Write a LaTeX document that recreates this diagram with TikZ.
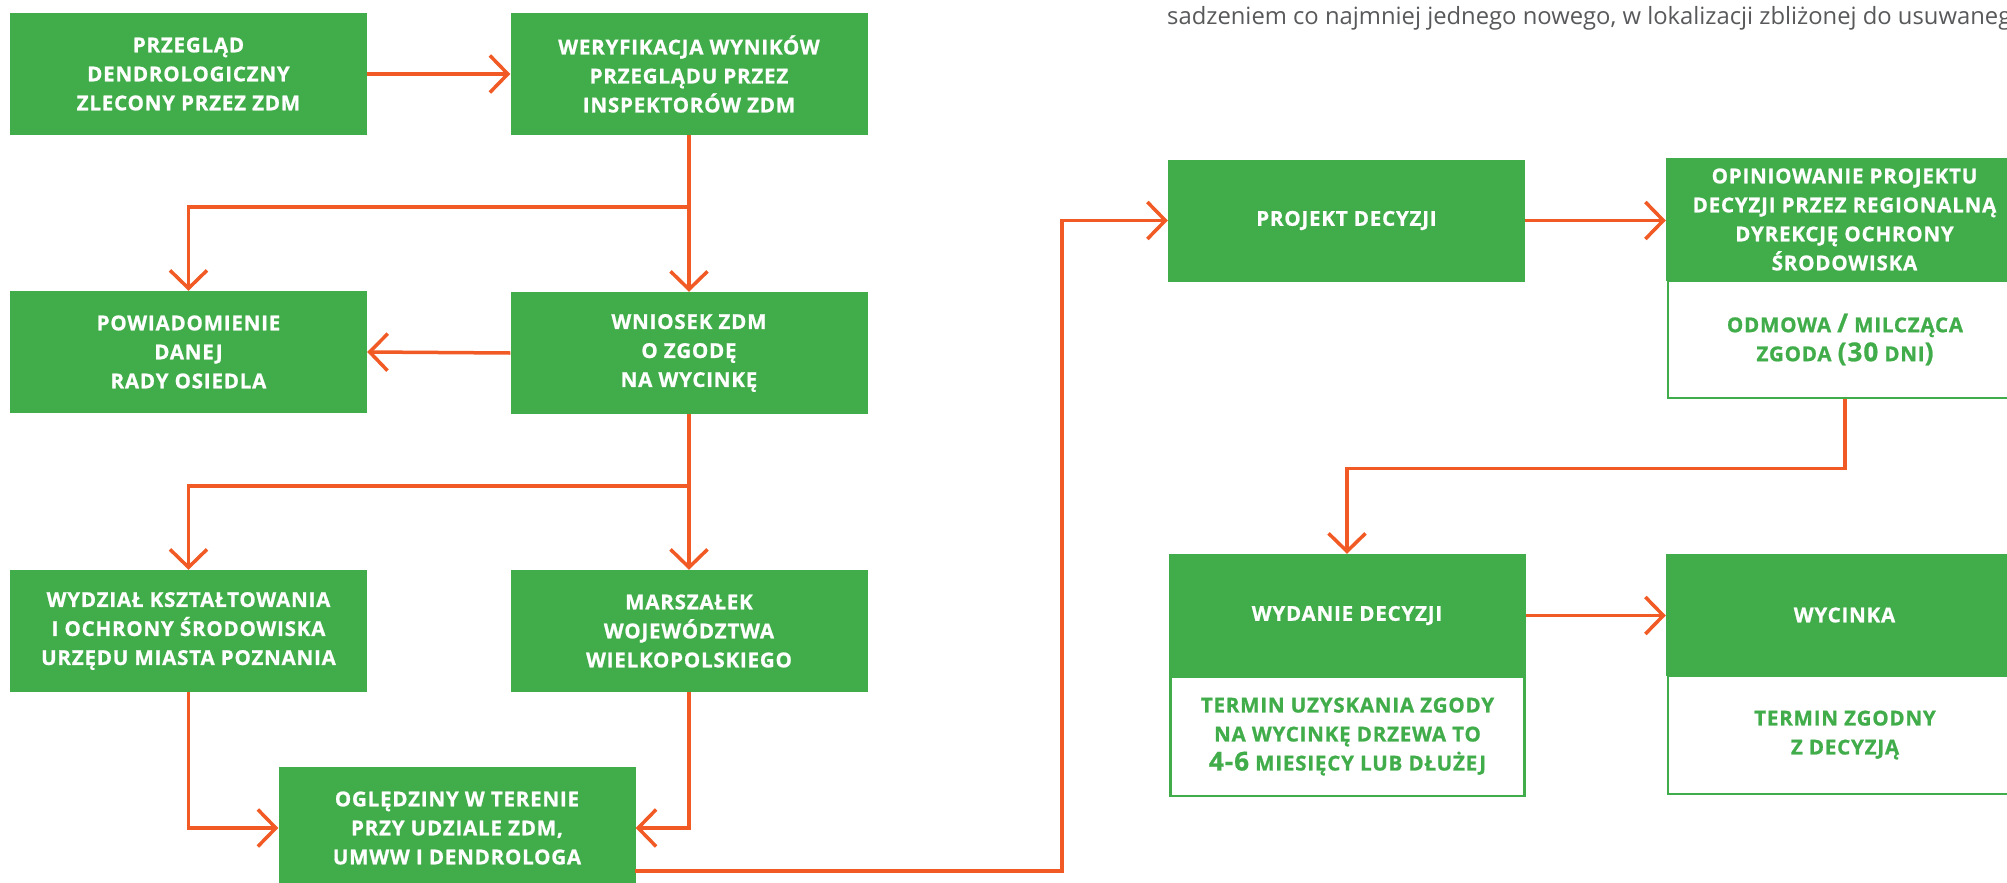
\documentclass[tikz,border=0pt]{standalone}
\usepackage{fontspec}
\setmainfont{Open Sans}
\newfontfamily\boxfont{Open Sans}[LetterSpace=4, BoldFeatures={FakeBold=1}]
\usetikzlibrary{arrows.meta}
\definecolor{zgreen}{HTML}{41AD4A}
\definecolor{zorange}{HTML}{F15A24}
\definecolor{zgray}{HTML}{58595B}
\newcommand\bigtxt[1]{{\fontsize{26bp}{29bp}\selectfont #1}}
\begin{document}
\begin{tikzpicture}[x=1bp,y=-1bp,
  box/.style={rectangle, fill=zgreen, minimum width=357bp, minimum height=122bp,
    inner sep=0pt, align=center, text=white,
    font=\boxfont\bfseries\fontsize{20.5bp}{29bp}\selectfont},
  subbox/.style={rectangle, draw=zgreen, line width=2.5bp, fill=white,
    minimum width=354bp, inner sep=0pt, align=center, text=zgreen,
    font=\boxfont\bfseries\fontsize{20.5bp}{29bp}\selectfont},
  arr/.style={draw=zorange, line width=3.5bp,
    -{Straight Barb[length=18bp,width=37bp]}}]
\useasboundingbox (0,0) rectangle (2007,883);
\fill[white] (0,0) rectangle (2007,883);

\node[anchor=base west, inner sep=0pt, text=zgray,
  font=\fontsize{23.8bp}{28bp}\selectfont] (note) at (1167,24)
  {sadzeniem co najmniej jednego nowego, w lokalizacji zbliżonej do usuwanego};

\node[box] (b1) at (188.5,74) {PRZEGLĄD\\DENDROLOGICZNY\\ZLECONY PRZEZ ZDM};
\node[box] (b2) at (689,74) {WERYFIKACJA WYNIKÓW\\PRZEGLĄDU PRZEZ\\INSPEKTORÓW ZDM};
\node[box] (b3) at (188.5,352) {POWIADOMIENIE\\DANEJ\\RADY OSIEDLA};
\node[box] (b4) at (689,353) {WNIOSEK ZDM\\O ZGODĘ\\NA WYCINKĘ};
\node[box] (b5) at (188.5,631) {WYDZIAŁ KSZTAŁTOWANIA\\I OCHRONY ŚRODOWISKA\\URZĘDU MIASTA POZNANIA};
\node[box] (b6) at (689,631) {MARSZAŁEK\\WOJEWÓDZTWA\\WIELKOPOLSKIEGO};
\node[box] (b7) at (457,828) {OGLĘDZINY W TERENIE\\PRZY UDZIALE ZDM,\\UMWW I DENDROLOGA};
\node[box] (b8) at (1346.5,220.5) {PROJEKT DECYZJI};

\node[subbox, minimum height=117bp] (w9) at (1845,339.5)
  {ODMOWA \bigtxt{/} MILCZĄCA\\ZGODA \bigtxt{(30} DNI\bigtxt{)}};
\node[box, minimum height=123bp] (b9) at (1844.5,219.5)
  {OPINIOWANIE PROJEKTU\\DECYZJI PRZEZ REGIONALNĄ\\DYREKCJĘ OCHRONY\\ŚRODOWISKA};

\node[subbox, minimum height=119bp] (w10) at (1347.5,736.5)
  {TERMIN UZYSKANIA ZGODY\\NA WYCINKĘ DRZEWA TO\\\bigtxt{4-6} MIESIĘCY LUB DŁUŻEJ};
\node[box, minimum height=123bp] (b10) at (1347,615.5) {WYDANIE DECYZJI};

\node[subbox, minimum height=118bp] (w11) at (1845,735)
  {TERMIN ZGODNY\\Z DECYZJĄ};
\node[box] (b11) at (1844.5,615) {WYCINKA};

\coordinate (j1) at (689,207);
\coordinate (j2) at (689,486);
\coordinate (o7) at (635,871);
\coordinate (k1) at (1062,871);

\draw[arr] (b1.east) -- (b2.west);
\draw[arr] (b2.south) -- (b4.north);
\draw[arr] (j1) -| (b3.north);
\draw[arr] (b4.west) -- (b3.east);
\draw[arr] (b4.south) -- (b6.north);
\draw[arr] (j2) -| (b5.north);
\draw[arr] (b5.south) |- (b7.west);
\draw[arr] (b6.south) |- (b7.east);
\draw[arr] (o7) -- (k1) |- (b8.west);
\draw[arr] (b8.east) -- (b8.east -| b9.west);
\draw[arr] (w9.south) -- ++(0,69) -| (b10.north);
\draw[arr] (b10.east) -- (b10.east -| b11.west);
\end{tikzpicture}
\end{document}
